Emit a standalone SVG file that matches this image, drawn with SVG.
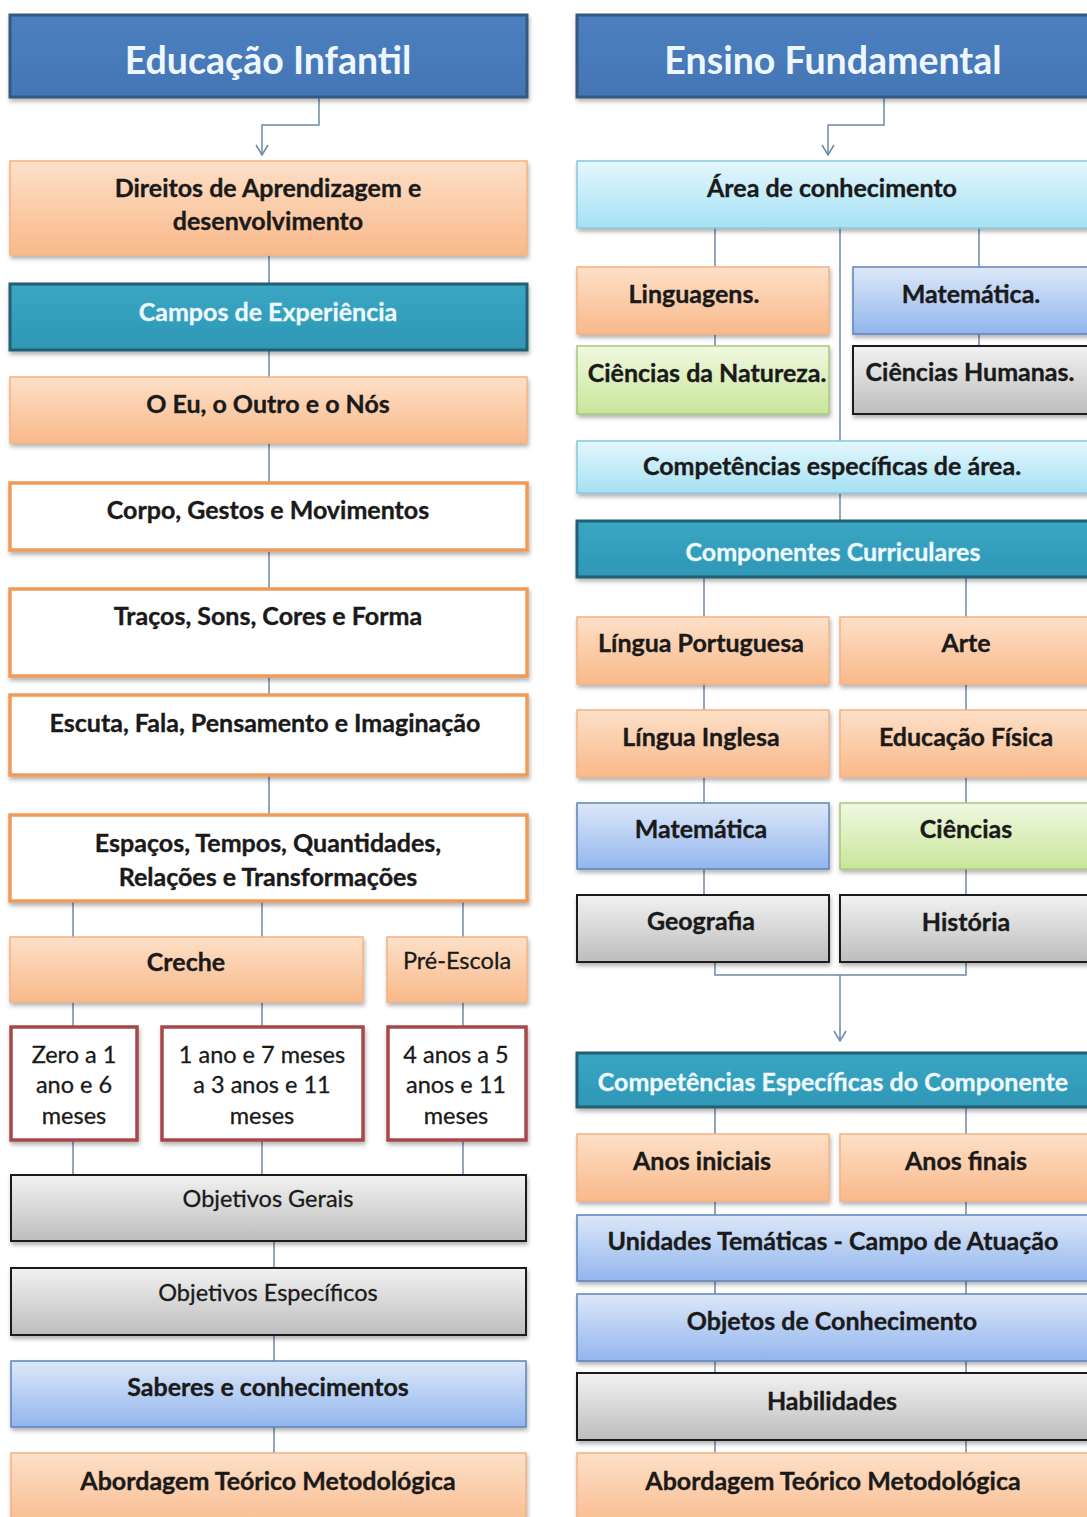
<svg xmlns="http://www.w3.org/2000/svg" width="1087" height="1517" viewBox="0 0 1087 1517">
<defs>
<linearGradient id="gOr" x1="0" y1="0" x2="0" y2="1"><stop offset="0" stop-color="#fde0c8"/><stop offset="1" stop-color="#f9b98a"/></linearGradient>
<linearGradient id="gHd" x1="0" y1="0" x2="0" y2="1"><stop offset="0" stop-color="#4d7fbf"/><stop offset="1" stop-color="#4376b5"/></linearGradient>
<linearGradient id="gTe" x1="0" y1="0" x2="0" y2="1"><stop offset="0" stop-color="#3aa6c4"/><stop offset="1" stop-color="#2f97b6"/></linearGradient>
<linearGradient id="gCy" x1="0" y1="0" x2="0" y2="1"><stop offset="0" stop-color="#e4f7fd"/><stop offset="1" stop-color="#a5e1f4"/></linearGradient>
<linearGradient id="gBl" x1="0" y1="0" x2="0" y2="1"><stop offset="0" stop-color="#dde8f8"/><stop offset="1" stop-color="#92b5ee"/></linearGradient>
<linearGradient id="gGr" x1="0" y1="0" x2="0" y2="1"><stop offset="0" stop-color="#f0f8e0"/><stop offset="1" stop-color="#c8e69a"/></linearGradient>
<linearGradient id="gGy" x1="0" y1="0" x2="0" y2="1"><stop offset="0" stop-color="#f2f2f2"/><stop offset="1" stop-color="#bdbdbd"/></linearGradient>
<filter id="sh" x="-5%" y="-10%" width="110%" height="130%"><feDropShadow dx="1" dy="3" stdDeviation="2" flood-color="#000" flood-opacity="0.3"/></filter>
<marker id="ar" markerWidth="12" markerHeight="14" refX="11" refY="7" orient="auto" markerUnits="userSpaceOnUse" viewBox="0 0 12 14"><path d="M1,1 L11,7 L1,13" fill="none" stroke="#6d88aa" stroke-width="1.5"/></marker>
</defs>
<style>
.b{filter:url(#sh)}
.or{fill:url(#gOr);stroke:#f4b382;stroke-width:1.5}
.hd{fill:url(#gHd);stroke:#36597f;stroke-width:3}
.te{fill:url(#gTe);stroke:#225f73;stroke-width:3}
.cy{fill:url(#gCy);stroke:#86c7dd;stroke-width:1.5}
.bl{fill:url(#gBl);stroke:#5d83b8;stroke-width:1.5}
.gr{fill:url(#gGr);stroke:#a9c87a;stroke-width:1.5}
.gy{fill:url(#gGy);stroke:#1c1c1c;stroke-width:2}
.ow{fill:#fff;stroke:#f09a58;stroke-width:3.5}
.rw{fill:#fff;stroke:#a8474a;stroke-width:3.5}
text{font-family:Lato,"Open Sans","Liberation Sans",sans-serif;text-anchor:middle;dominant-baseline:central;fill:#1a1a1a}
.t{font-size:25px;font-weight:bold;stroke:#1a1a1a;stroke-width:0.35}
.n{font-size:23.5px;font-weight:normal;stroke:#1a1a1a;stroke-width:0.3}
.w{fill:#eefaff;stroke:#eefaff;stroke-width:0.3;font-size:25px;font-weight:bold}
.h{fill:#eef6ff;font-size:37.5px;font-weight:bold}
.c{fill:none;stroke:#6d88aa;stroke-width:1.5}
</style>
<rect width="1087" height="1517" fill="#fff"/>
<g id="connectors">
<path class="c" d="M319,97 V125 H262 V155" marker-end="url(#ar)"/>
<path class="c" d="M884,97 V125 H828 V155" marker-end="url(#ar)"/>
<path class="c" d="M269,255 V284"/>
<path class="c" d="M269,350 V377"/>
<path class="c" d="M269,443 V483"/>
<path class="c" d="M269,550 V589"/>
<path class="c" d="M269,676 V695"/>
<path class="c" d="M269,775 V815"/>
<path class="c" d="M73,901 V937 M262,901 V937 M463,901 V937"/>
<path class="c" d="M73,1002 V1027 M262,1002 V1027 M463,1002 V1027"/>
<path class="c" d="M73,1140 V1175 M262,1140 V1175 M463,1140 V1175"/>
<path class="c" d="M274,1241 V1267"/>
<path class="c" d="M274,1335 V1361"/>
<path class="c" d="M274,1427 V1453"/>
<path class="c" d="M715,228 V267 M979,228 V267 M840,228 V441"/>
<path class="c" d="M715,334 V346 M979,334 V346"/>
<path class="c" d="M840,493 V521"/>
<path class="c" d="M704,577 V617 M966,577 V617"/>
<path class="c" d="M704,684 V710 M966,684 V710"/>
<path class="c" d="M704,777 V803 M966,777 V803"/>
<path class="c" d="M704,869 V895 M966,869 V895"/>
<path class="c" d="M715,962 V975 H966 V962"/>
<path class="c" d="M840,975 V1041" marker-end="url(#ar)"/>
<path class="c" d="M715,1107 V1134 M966,1107 V1134"/>
<path class="c" d="M715,1201 V1215 M966,1201 V1215"/>
<path class="c" d="M715,1281 V1294 M966,1281 V1294"/>
<path class="c" d="M715,1361 V1373 M966,1361 V1373"/>
<path class="c" d="M715,1440 V1453 M966,1440 V1453"/>
</g>
<g id="educacao-infantil"><rect class="hd b" x="10" y="15" width="517" height="82"/><text class="h" x="268" y="59">Educação Infantil</text></g>
<g id="direitos"><rect class="or b" x="10" y="161" width="517" height="94"/><text class="t" x="268" y="187">Direitos de Aprendizagem e</text><text class="t" x="268" y="220">desenvolvimento</text></g>
<g id="campos"><rect class="te b" x="10" y="284" width="517" height="66"/><text class="w" x="268" y="311">Campos de Experiência</text></g>
<g id="eu-outro"><rect class="or b" x="10" y="377" width="517" height="66"/><text class="t" x="268" y="403">O Eu, o Outro e o Nós</text></g>
<g id="corpo"><rect class="ow b" x="10" y="483" width="517" height="67"/><text class="t" x="268" y="509">Corpo, Gestos e Movimentos</text></g>
<g id="tracos"><rect class="ow b" x="10" y="589" width="517" height="87"/><text class="t" x="268" y="615">Traços, Sons, Cores e Forma</text></g>
<g id="escuta"><rect class="ow b" x="10" y="695" width="517" height="80"/><text class="t" x="265" y="722">Escuta, Fala, Pensamento e Imaginação</text></g>
<g id="espacos"><rect class="ow b" x="10" y="815" width="517" height="86"/><text class="t" x="268" y="842">Espaços, Tempos, Quantidades,</text><text class="t" x="268" y="876">Relações e Transformações</text></g>
<g id="creche"><rect class="or b" x="10" y="937" width="353" height="65"/><text class="t" x="186" y="961">Creche</text></g>
<g id="pre-escola"><rect class="or b" x="387" y="937" width="140" height="65"/><text class="n" x="457" y="960">Pré-Escola</text></g>
<g id="zero"><rect class="rw b" x="11" y="1027" width="126" height="113"/><text class="n" x="74" y="1054">Zero a 1</text><text class="n" x="74" y="1084">ano e 6</text><text class="n" x="74" y="1115">meses</text></g>
<g id="um-ano"><rect class="rw b" x="162" y="1027" width="201" height="113"/><text class="n" x="262" y="1054">1 ano e 7 meses</text><text class="n" x="262" y="1084">a 3 anos e 11</text><text class="n" x="262" y="1115">meses</text></g>
<g id="quatro"><rect class="rw b" x="388" y="1027" width="138" height="113"/><text class="n" x="456" y="1054">4 anos a 5</text><text class="n" x="456" y="1084">anos e 11</text><text class="n" x="456" y="1115">meses</text></g>
<g id="obj-gerais"><rect class="gy b" x="11" y="1175" width="515" height="66"/><text class="n" x="268" y="1198">Objetivos Gerais</text></g>
<g id="obj-especificos"><rect class="gy b" x="11" y="1268" width="515" height="67"/><text class="n" x="268" y="1292">Objetivos Específicos</text></g>
<g id="saberes"><rect class="bl b" x="11" y="1361" width="515" height="66"/><text class="t" x="268" y="1386">Saberes e conhecimentos</text></g>
<g id="abordagem-ei"><rect class="or b" x="11" y="1453" width="515" height="80"/><text class="t" x="268" y="1480">Abordagem Teórico Metodológica</text></g>
<g id="ensino-fundamental"><rect class="hd b" x="577" y="15" width="530" height="82"/><text class="h" x="833" y="59">Ensino Fundamental</text></g>
<g id="area"><rect class="cy b" x="577" y="161" width="530" height="67"/><text class="t" x="832" y="187">Área de conhecimento</text></g>
<g id="linguagens"><rect class="or b" x="577" y="267" width="252" height="67"/><text class="t" x="694" y="293">Linguagens.</text></g>
<g id="matematica-area"><rect class="bl b" x="853" y="267" width="254" height="67"/><text class="t" x="971" y="293">Matemática.</text></g>
<g id="ciencias-natureza"><rect class="gr b" x="577" y="346" width="252" height="68"/><text class="t" x="707" y="372">Ciências da Natureza.</text></g>
<g id="ciencias-humanas"><rect class="gy b" x="853" y="346" width="254" height="68"/><text class="t" x="970" y="371">Ciências Humanas.</text></g>
<g id="competencias-area"><rect class="cy b" x="577" y="441" width="530" height="52"/><text class="t" x="832" y="465">Competências específicas de área.</text></g>
<g id="componentes"><rect class="te b" x="577" y="521" width="530" height="56"/><text class="w" x="833" y="551">Componentes Curriculares</text></g>
<g id="lingua-portuguesa"><rect class="or b" x="577" y="617" width="252" height="67"/><text class="t" x="701" y="642">Língua Portuguesa</text></g>
<g id="arte"><rect class="or b" x="840" y="617" width="267" height="67"/><text class="t" x="966" y="642">Arte</text></g>
<g id="lingua-inglesa"><rect class="or b" x="577" y="710" width="252" height="67"/><text class="t" x="701" y="736">Língua Inglesa</text></g>
<g id="educacao-fisica"><rect class="or b" x="840" y="710" width="267" height="67"/><text class="t" x="966" y="736">Educação Física</text></g>
<g id="matematica"><rect class="bl b" x="577" y="803" width="252" height="66"/><text class="t" x="701" y="828">Matemática</text></g>
<g id="ciencias"><rect class="gr b" x="840" y="803" width="267" height="66"/><text class="t" x="966" y="828">Ciências</text></g>
<g id="geografia"><rect class="gy b" x="577" y="895" width="252" height="67"/><text class="t" x="701" y="920">Geografia</text></g>
<g id="historia"><rect class="gy b" x="840" y="895" width="267" height="67"/><text class="t" x="966" y="921">História</text></g>
<g id="competencias-componente"><rect class="te b" x="577" y="1053" width="530" height="54"/><text class="w" x="833" y="1081">Competências Específicas do Componente</text></g>
<g id="anos-iniciais"><rect class="or b" x="577" y="1134" width="252" height="67"/><text class="t" x="702" y="1160">Anos iniciais</text></g>
<g id="anos-finais"><rect class="or b" x="840" y="1134" width="267" height="67"/><text class="t" x="966" y="1160">Anos finais</text></g>
<g id="unidades"><rect class="bl b" x="577" y="1215" width="530" height="66"/><text class="t" x="833" y="1240">Unidades Temáticas - Campo de Atuação</text></g>
<g id="objetos"><rect class="bl b" x="577" y="1294" width="530" height="67"/><text class="t" x="832" y="1320">Objetos de Conhecimento</text></g>
<g id="habilidades"><rect class="gy b" x="577" y="1373" width="530" height="67"/><text class="t" x="832" y="1400">Habilidades</text></g>
<g id="abordagem-ef"><rect class="or b" x="577" y="1453" width="530" height="80"/><text class="t" x="833" y="1480">Abordagem Teórico Metodológica</text></g>
</svg>
